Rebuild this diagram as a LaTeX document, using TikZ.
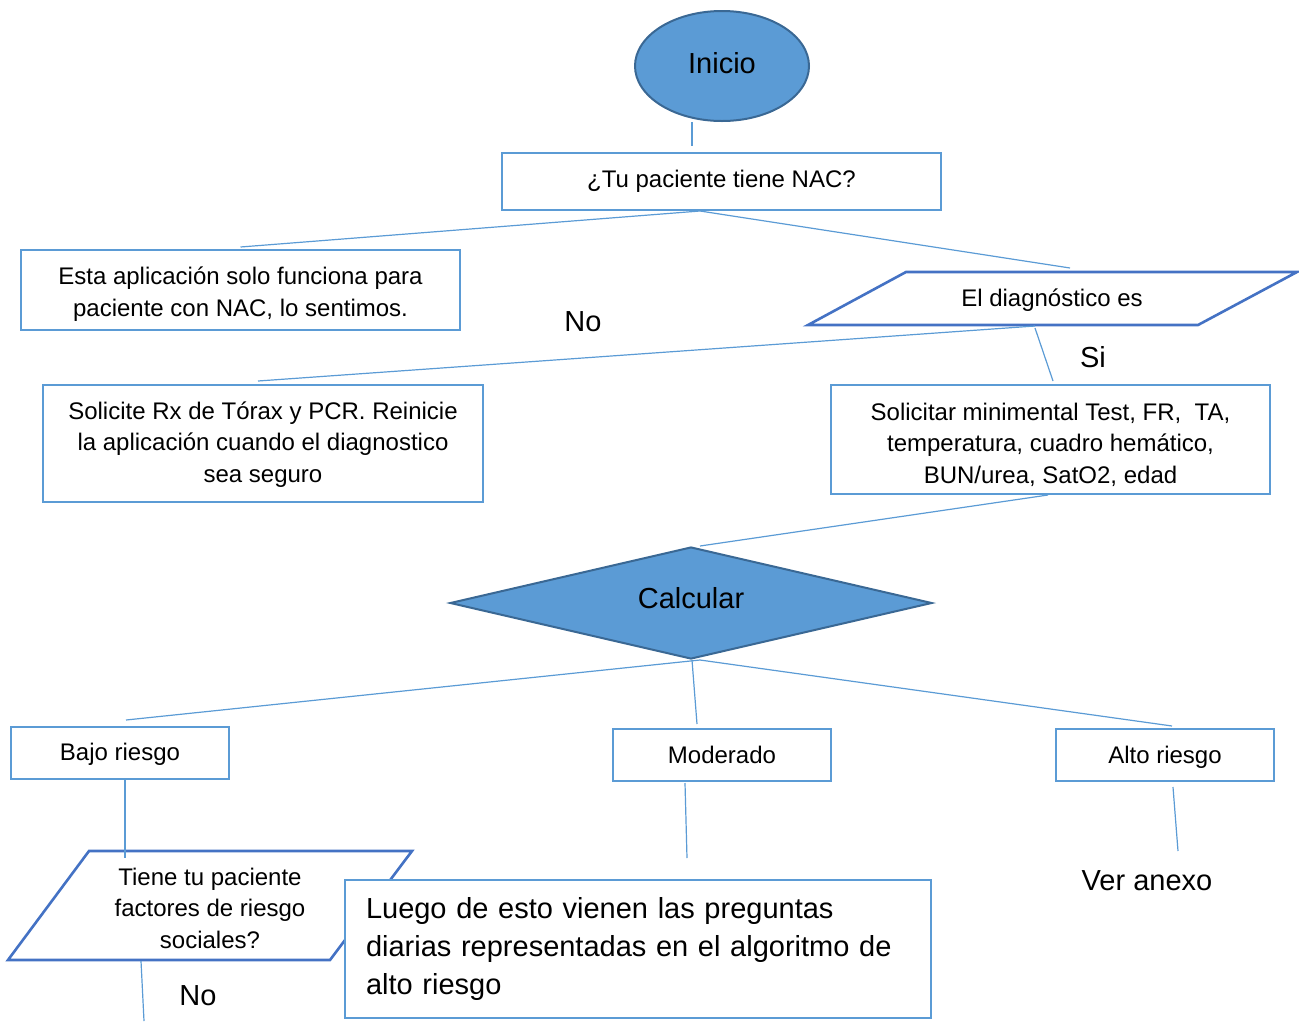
\documentclass[tikz,border=0pt]{standalone}
\usepackage{fontspec}
\setmainfont{Liberation Sans}
\usetikzlibrary{shapes.geometric}
\definecolor{blueF}{HTML}{5B9BD5}
\definecolor{darkB}{HTML}{3A6894}
\definecolor{boxB}{HTML}{5B9BD5}
\definecolor{paraB}{HTML}{4472C4}
\newcommand\fS{\fontsize{24}{31.5}\selectfont}
\newcommand\fL{\fontsize{29}{38}\selectfont}
\tikzset{
  box/.style={draw=boxB, line width=2pt, fill=white, align=center, font=\fS, inner sep=0pt},
  para/.style={draw=paraB, line width=2.6pt, line join=miter, fill=white},
  conn/.style={draw=boxB, line width=1.2pt},
  lbl/.style={font=\fL, inner sep=0pt},
  txt/.style={font=\fS, align=center, inner sep=0pt},
}
\begin{document}
\begin{tikzpicture}[x=1pt,y=-1pt]
\useasboundingbox (0,0) rectangle (1299,1021);
% start
\node[ellipse, fill=blueF, draw=darkB, line width=2pt, minimum width=174pt, minimum height=110pt, inner sep=0pt] (inicio) at (722,66) {};
\node[lbl] (iniciotxt) at (722,63) {Inicio};
\node[box, minimum width=439pt, minimum height=57pt] (q1) at (721.5,181.5) {¿Tu paciente tiene NAC?};
\node[box, minimum width=439pt, minimum height=80pt] (nonac) at (240.5,290) {};
\node[txt] (nonactxt) at (240.5,294) {Esta aplicación solo funciona para\\paciente con NAC, lo sentimos.};
% parallelogram 1
\draw[para] (906,272) -- (1297,272) -- (1198,325) -- (808,325) -- cycle;
\node[txt] (diag) at (1052,300) {El diagnóstico es};
\node[lbl] (lno1) at (583,322) {No};
\node[lbl] (lsi) at (1093,357) {Si};
\node[box, minimum width=440pt, minimum height=117pt] (rx) at (263,443.5) {};
\node[txt] (rxtxt) at (263,444.5) {Solicite Rx de Tórax y PCR. Reinicie\\la aplicación cuando el diagnostico\\sea seguro};
\node[box, minimum width=439pt, minimum height=109pt] (sol) at (1050.5,439.5) {};
\node[txt] (soltxt) at (1050.5,444.5) {Solicitar minimental Test, FR,\ \ TA,\\temperatura, cuadro hemático,\\BUN/urea, SatO2, edad};
% diamond
\node[diamond, fill=blueF, draw=darkB, line width=2pt, minimum width=482pt, minimum height=112pt, inner sep=0pt] (calc) at (691,603) {};
\node[lbl] (calctxt) at (691,598) {Calcular};
\node[box, minimum width=218pt, minimum height=52pt] (bajo) at (120,753) {};
\node[txt] (bajotxt) at (120,754) {Bajo riesgo};
\node[box, minimum width=218pt, minimum height=52pt] (mod) at (722,755) {Moderado};
\node[box, minimum width=218pt, minimum height=52pt] (alto) at (1165,755) {};
\node[txt] (altotxt) at (1165,757) {Alto riesgo};
\node[lbl] (anexo) at (1147,881) {Ver anexo};
% parallelogram 2
\draw[para] (89,851) -- (412,851) -- (330,960) -- (8,960) -- cycle;
\node[txt] (soc) at (210,908) {Tiene tu paciente\\factores de riesgo\\sociales?};
\node[lbl] (lno2) at (198,996) {No};
\node[box, minimum width=586pt, minimum height=138pt, font=\fL, align=left, text width=544pt] (luego) at (638,949) {Luego de esto vienen las preguntas\\diarias representadas en el algoritmo de\\alto riesgo};
% free ends
\coordinate (endbajo) at (125,858);
\coordinate (endmod) at (687,858);
\coordinate (endalto) at (1178,851);
\coordinate (endsoc) at (144,1021);
\coordinate (socbot) at (141,961);
% connectors
\draw[conn] ([xshift=-30pt]inicio.south) -- ([xshift=-29.5pt,yshift=6pt]q1.north);
\draw[conn] ([xshift=-21.5pt]q1.south) -- ([yshift=2pt]nonac.north);
\draw[conn] ([xshift=-21.5pt]q1.south) -- ([xshift=18pt,yshift=32pt]diag.center);
\draw[conn] ([xshift=-17pt,yshift=-26pt]diag.center) -- ([xshift=-5pt,yshift=3pt]rx.north);
\draw[conn] ([xshift=-17pt,yshift=-28pt]diag.center) -- ([xshift=2.5pt,yshift=3pt]sol.north);
\draw[conn] ([xshift=-2.5pt]sol.south) -- ([xshift=9pt]calc.north);
\draw[conn] ([xshift=9pt]calc.south) -- ([xshift=6pt,yshift=6pt]bajo.north);
\draw[conn] ([xshift=1pt]calc.south) -- ([xshift=-25pt,yshift=4pt]mod.north);
\draw[conn] ([xshift=9pt]calc.south) -- ([xshift=7pt,yshift=2pt]alto.north);
\draw[conn] ([xshift=5pt]bajo.south) -- (endbajo);
\draw[conn] ([xshift=-37pt,yshift=-1pt]mod.south) -- (endmod);
\draw[conn] ([xshift=8pt,yshift=-5pt]alto.south) -- (endalto);
\draw[conn] (socbot) -- (endsoc);
\end{tikzpicture}
\end{document}
